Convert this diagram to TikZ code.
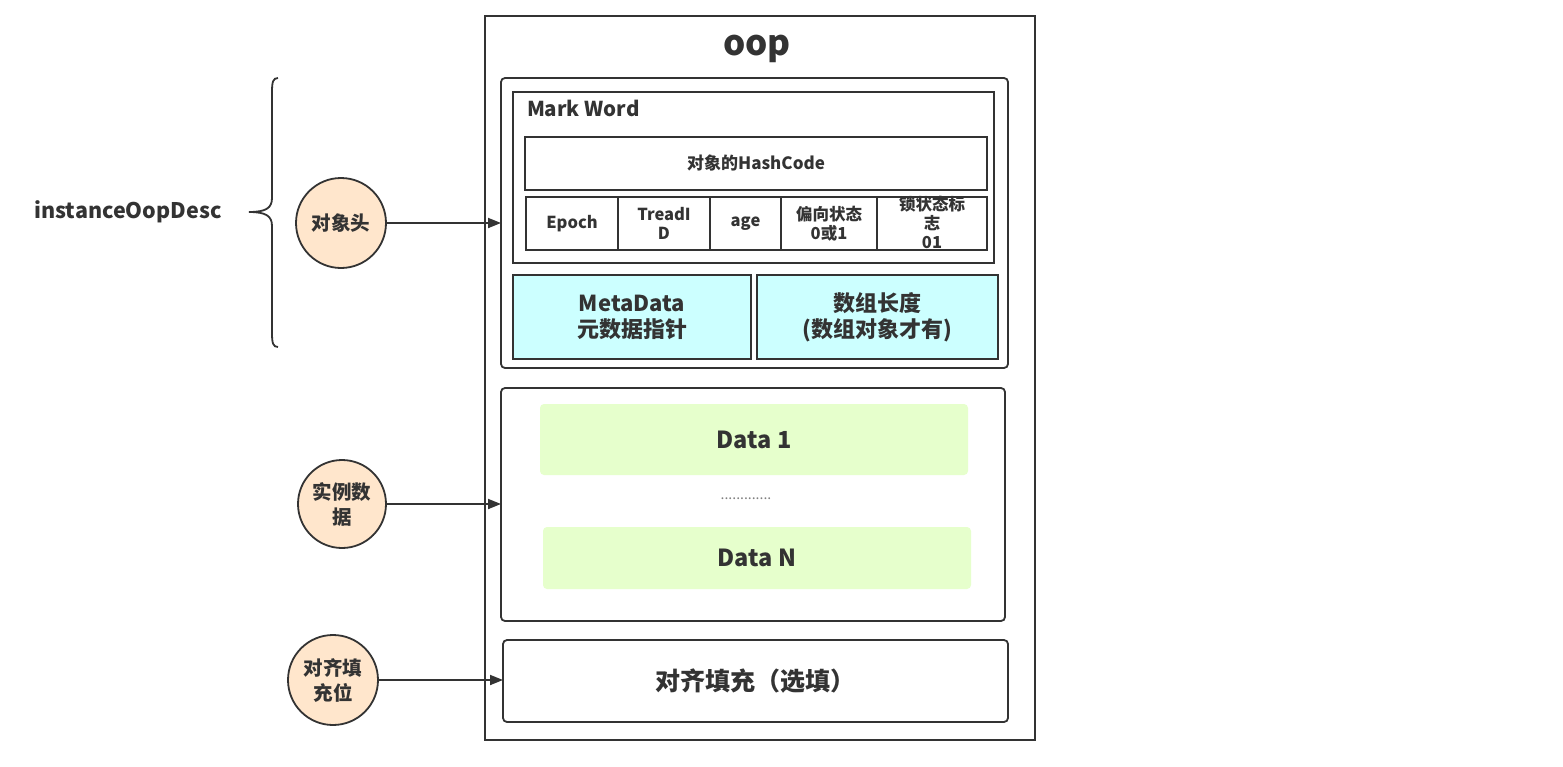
\documentclass[tikz,border=0pt]{standalone}
\usepackage{fontspec}
\setmainfont{Noto Sans CJK SC}
\usetikzlibrary{arrows.meta}
\definecolor{ln}{HTML}{333333}
\definecolor{txt}{HTML}{333333}
\definecolor{cyanf}{HTML}{CCFFFF}
\definecolor{greenf}{HTML}{E6FFCC}
\definecolor{peach}{HTML}{FFE6CC}
\begin{document}
\begin{tikzpicture}[x=1bp,y=-1bp,
  every node/.style={inner sep=0pt,outer sep=0pt,text=txt},
  box/.style={draw=ln,line width=1.8bp,anchor=north west,fill=white},
  rbox/.style={box,rounded corners=4bp},
  cell/.style={box,font=\fontsize{16.5bp}{19bp}\selectfont\bfseries,align=center},
  datab/.style={anchor=north west,fill=greenf,rounded corners=4bp,font=\fontsize{23.5bp}{27bp}\selectfont\bfseries},
  circ/.style={circle,draw=ln,line width=1.8bp,fill=peach,align=center,font=\fontsize{19.5bp}{25bp}\selectfont\bfseries},
  arr/.style={draw=ln,line width=1.8bp,-{Triangle[length=13bp,width=10bp]}}
]
\useasboundingbox (0,0) rectangle (1563,767);
% outer
\node[box,minimum width=550bp,minimum height=724bp] (oopbox) at (485,16) {};
\node[font=\fontsize{35bp}{40bp}\selectfont\bfseries] (ooplbl) at (757,49) {oop};
% header
\node[rbox,minimum width=507bp,minimum height=290bp] (header) at (501,78) {};
\node[box,minimum width=481bp,minimum height=171bp] (mark) at (513,92) {};
\node[anchor=west,font=\fontsize{20.5bp}{24bp}\selectfont\bfseries] (marklbl) at (527,108) {Mark Word};
\node[cell,font=\fontsize{17bp}{20bp}\selectfont\bfseries,minimum width=462bp,minimum height=53bp] (hash) at (525,137) {对象的HashCode};
\node[cell,minimum width=92bp,minimum height=53bp] (epoch) at (526,197) {Epoch};
\node[cell,minimum width=92bp,minimum height=53bp] (tread) at (618,197) {TreadI\\D};
\node[cell,minimum width=71bp,minimum height=53bp] (age) at (710,197) {age};
\node[cell,minimum width=96bp,minimum height=53bp] (bias) at (781,197) {偏向状态\\0或1};
\node[box,minimum width=110bp,minimum height=53bp] (lock) at (877,197) {};
\node[font=\fontsize{16.5bp}{19bp}\selectfont\bfseries,align=center] (locklbl) at (932,222) {锁状态标\\志\\01};
\node[box,fill=cyanf,minimum width=238bp,minimum height=84bp,align=center,font=\fontsize{22bp}{26bp}\selectfont\bfseries] (meta) at (513,275) {MetaData\\元数据指针};
\node[box,fill=cyanf,minimum width=241bp,minimum height=84bp,align=center,font=\fontsize{22bp}{26bp}\selectfont\bfseries] (arrlen) at (757,275) {数组长度\\(数组对象才有)};
% instance data
\node[rbox,minimum width=504bp,minimum height=233bp] (inst) at (501,388) {};
\node[datab,minimum width=428bp,minimum height=71bp] (d1) at (540,404) {Data 1};
\node[font=\fontsize{14bp}{16bp}\selectfont,text=gray] (dots) at (746,499) {.............};
\node[datab,minimum width=428bp,minimum height=62bp] (dN) at (543,527) {Data N};
% padding
\node[rbox,minimum width=505bp,minimum height=82bp,font=\fontsize{25bp}{30bp}\selectfont\bfseries] (pad) at (503,640) {对齐填充（选填）};
% circles
\node[circ,minimum size=90bp] (cobj) at (341,223) {对象头};
\node[circ,minimum size=88bp] (cinst) at (342,504) {实例数\\据};
\node[circ,minimum size=90bp] (cpad) at (333,680) {对齐填\\充位};
\draw[arr] (cobj) -- (cobj -| header.west);
\draw[arr] (cinst) -- (cinst -| inst.west);
\draw[arr] (cpad) -- (cpad -| pad.west);
% brace
\coordinate (btop) at (278,78);
\coordinate (bbot) at (278,347);
\coordinate (btip) at (249,212);
\draw[ln,line width=1.8bp] (btop) .. controls (273,78) and (272,82) .. (272,92) -- (272,198)
  .. controls (272,208) and (266,212) .. (btip)
  .. controls (266,212) and (272,216) .. (272,226) -- (272,333)
  .. controls (272,343) and (273,347) .. (bbot);
\node[font=\fontsize{21.5bp}{25bp}\selectfont\bfseries] (desc) at (128,212) {instanceOopDesc};
\end{tikzpicture}
\end{document}
